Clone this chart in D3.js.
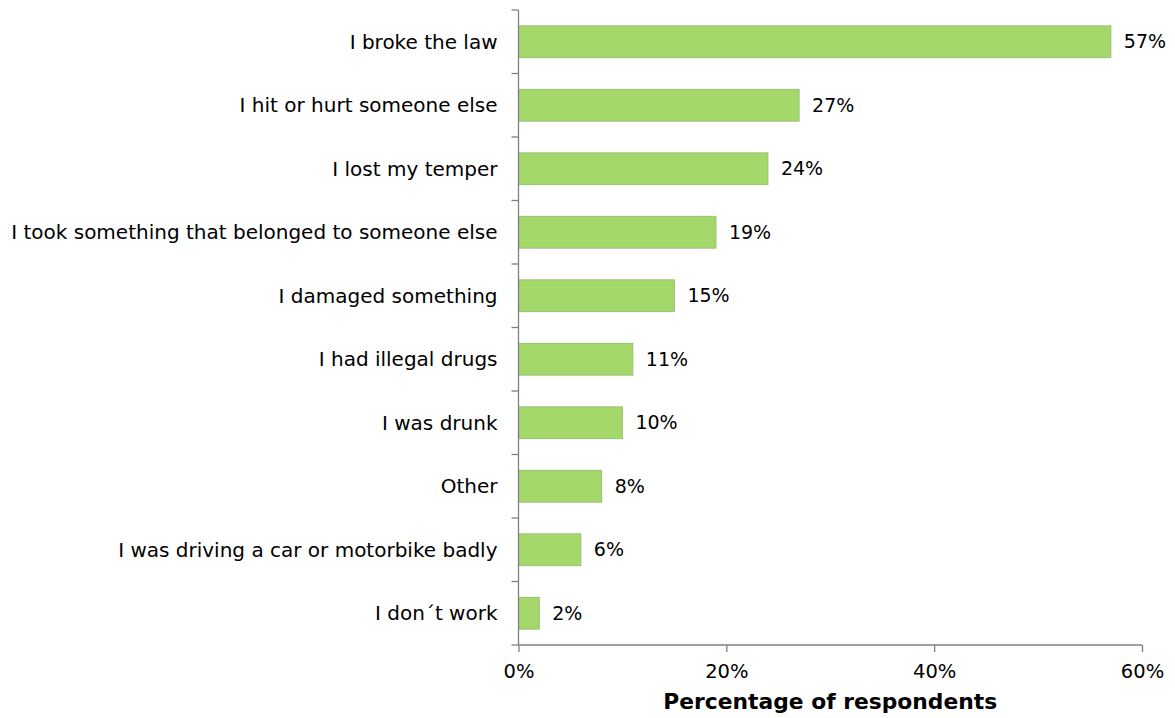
<!DOCTYPE html>
<html>
<head>
<meta charset="utf-8">
<script src="https://cdn.jsdelivr.net/npm/d3@7"></script>
<style>
  html, body { margin: 0; padding: 0; background: #fff; }
  svg { display: block; }
  text { font-family: "DejaVu Sans", Verdana, sans-serif; fill: #000; }
</style>
</head>
<body>
<svg id="chart" width="1175" height="718"></svg>
<script>
const categories = [
  "I broke the law",
  "I hit or hurt someone else",
  "I lost my temper",
  "I took something that belonged to someone else",
  "I damaged something",
  "I had illegal drugs",
  "I was drunk",
  "Other",
  "I was driving a car or motorbike badly",
  "I don\u00b4t work"
];
const values = [57, 27, 24, 19, 15, 11, 10, 8, 6, 2];
const xTicks = [0, 20, 40, 60];
const xTitle = "Percentage of respondents";

const svg = d3.select("#chart");
const margin = { left: 518.5, right: 33, top: 10, bottom: 73 };
const W = 1175, H = 718;

const x = d3.scaleLinear().domain([0, 60]).range([margin.left, W - margin.right]);
const y = d3.scaleBand().domain(categories).range([margin.top, H - margin.bottom]).paddingInner(0.5).paddingOuter(0.25);

const axisColor = "#808080";

// bars
svg.append("g").selectAll("rect").data(values).join("rect")
  .attr("x", x(0))
  .attr("y", (d, i) => y(categories[i]))
  .attr("width", d => x(d) - x(0))
  .attr("height", y.bandwidth())
  .attr("fill", "#a5d86b")
  .attr("stroke", "#9bbf73")
  .attr("stroke-width", 1);

// value labels
svg.append("g").selectAll("text").data(values).join("text")
  .attr("x", d => x(d) + 13)
  .attr("y", (d, i) => y(categories[i]) + y.bandwidth() / 2)
  .attr("dy", "0.35em")
  .attr("font-size", 19)
  .text(d => d + "%");

// y axis: line plus ticks at category boundaries
const yAxis = svg.append("g");
yAxis.append("line")
  .attr("x1", x(0)).attr("x2", x(0))
  .attr("y1", margin.top).attr("y2", H - margin.bottom)
  .attr("stroke", axisColor).attr("stroke-width", 1.3);
const boundaries = d3.range(categories.length + 1).map(i => margin.top + (H - margin.top - margin.bottom) * i / categories.length);
yAxis.selectAll("line.tick").data(boundaries).join("line")
  .attr("class", "tick")
  .attr("x1", x(0) - 7).attr("x2", x(0))
  .attr("y1", d => d).attr("y2", d => d)
  .attr("stroke", axisColor).attr("stroke-width", 1.3);
yAxis.selectAll("text").data(categories).join("text")
  .attr("x", x(0) - 21)
  .attr("y", d => y(d) + y.bandwidth() / 2)
  .attr("dy", "0.35em")
  .attr("text-anchor", "end")
  .attr("font-size", 20)
  .text(d => d);

// x axis
const xAxis = svg.append("g").attr("transform", `translate(0,${H - margin.bottom})`)
  .call(d3.axisBottom(x).tickValues(xTicks).tickFormat(d => d + "%").tickSize(7).tickPadding(12));
xAxis.select(".domain").attr("stroke", axisColor).attr("stroke-width", 1.3).attr("d", `M${x(0)},0H${x(60)}`);
xAxis.selectAll(".tick line").attr("stroke", axisColor).attr("stroke-width", 1.3);
xAxis.selectAll(".tick text").attr("font-size", 19.5).attr("font-family", "DejaVu Sans, Verdana, sans-serif").attr("fill", "#000");

svg.append("text")
  .attr("x", (x(0) + x(60)) / 2)
  .attr("y", 709)
  .attr("text-anchor", "middle")
  .attr("font-weight", "bold")
  .attr("font-size", 21.8)
  .text(xTitle);
</script>
</body>
</html>
